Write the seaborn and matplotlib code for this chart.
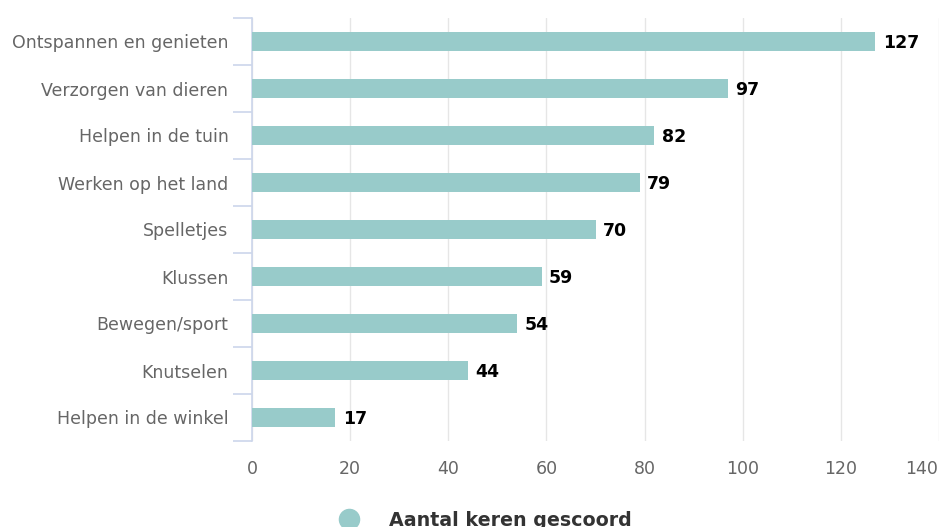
import matplotlib
matplotlib.use("Agg")
import matplotlib.pyplot as plt
import matplotlib.transforms as mtransforms
import seaborn as sns
import pandas as pd
from matplotlib.lines import Line2D

# data
categories = ["Ontspannen en genieten", "Verzorgen van dieren", "Helpen in de tuin",
              "Werken op het land", "Spelletjes", "Klussen", "Bewegen/sport",
              "Knutselen", "Helpen in de winkel"]
scores = [127, 97, 82, 79, 70, 59, 54, 44, 17]
series_name = "Aantal keren gescoord"
x_ticks = [0, 20, 40, 60, 80, 100, 120, 140]

df = pd.DataFrame({"categorie": categories, "score": scores})

sns.set_style("white")
plt.rcParams['font.family'] = ['DejaVu Sans']

fig = plt.figure(figsize=(9.4, 5.27), dpi=100)
ax = fig.add_axes([252 / 940, 1 - 441 / 527, 687 / 940, 423 / 527])

bar_color = "#98cbca"
sns.barplot(data=df, x="score", y="categorie", orient="h", color=bar_color,
            width=0.4, saturation=1, linewidth=0, ax=ax, zorder=3)

ax.set_xlim(0, 140)
ax.set_ylim(8.5, -0.5)
ax.set_xticks(x_ticks)
ax.set_xlabel("")
ax.set_ylabel("")

# grid
ax.grid(axis="x", color="#e6e6e6", linewidth=1, zorder=0)
ax.set_axisbelow(True)

# spines
for s in ["top", "right", "bottom"]:
    ax.spines[s].set_visible(False)
ax.spines["left"].set_color("#ccd6eb")
ax.spines["left"].set_linewidth(1.2)

# tick styling
ax.tick_params(axis="x", length=0, labelsize=12.5, labelcolor="#666666", pad=14)
ax.tick_params(axis="y", which="major", length=0, labelsize=12.5, labelcolor="#666666", pad=17)
ax.set_yticks([i - 0.5 for i in range(len(categories) + 1)], minor=True)
ax.tick_params(axis="y", which="minor", left=True, length=14, color="#ccd6eb", width=1.2)

# keep last x label inside the figure
last = ax.get_xticklabels()[-1]
last.set_transform(last.get_transform() + mtransforms.ScaledTranslation(-17 / 100, 0, fig.dpi_scale_trans))

# data labels
for i, v in enumerate(scores):
    ax.text(v + 1.5, i + 0.04, str(v), va="center", ha="left", fontsize=12.5,
            fontweight="bold", color="#000000")

# legend
handle = Line2D([], [], linestyle="none", marker="o", markersize=14.5,
                markerfacecolor=bar_color, markeredgecolor=bar_color)
fig.legend(handles=[handle], labels=[series_name], loc="center",
           bbox_to_anchor=(481 / 940, 1 - 520 / 527), frameon=False,
           prop={"size": 13.7, "weight": "bold"}, labelcolor="#333333",
           handletextpad=1.1)

fig.savefig("out.png", dpi=100)
